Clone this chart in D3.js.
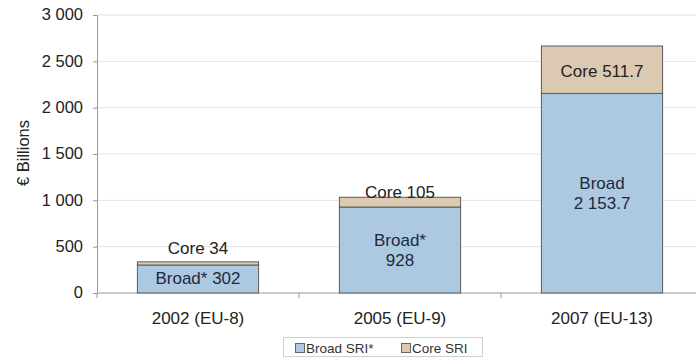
<!doctype html>
<html>
<head>
  <meta charset="utf-8">
  <script src="https://d3js.org/d3.v7.min.js"></script>
  <style>
    body { margin:0; background:#fff; font-family:"Liberation Sans", Arial, sans-serif; }
    svg { display:block; }
    .tick text { font-size:16.5px; fill:#222; }
  </style>
</head>
<body>
  <svg id="chart" width="696" height="360"></svg>
  <script>
    const categories = ["2002 (EU-8)", "2005 (EU-9)", "2007 (EU-13)"];
    const broadVals  = [302, 928, 2153.7];
    const coreVals   = [34, 105, 511.7];
    const broadLabels = [["Broad* 302"], ["Broad*", "928"], ["Broad", "2 153.7"]];
    const coreLabels  = ["Core 34", "Core 105", "Core 511.7"];
    const yTicks = [0, 500, 1000, 1500, 2000, 2500, 3000];

    const svg = d3.select("#chart");
    const x0 = 97, x1 = 703, yTop = 15, yBot = 293;

    const x = d3.scaleBand().domain(categories).range([x0, x1]).paddingInner(0.4).paddingOuter(0.2);
    const y = d3.scaleLinear().domain([0, 3000]).range([yBot, yTop]);
    const fmt = v => d3.format(",")(v).replace(/,/g, " ");

    // gridlines
    svg.append("g")
      .selectAll("line").data(yTicks.slice(1)).join("line")
      .attr("x1", x0).attr("x2", 696)
      .attr("y1", d => y(d)).attr("y2", d => y(d))
      .attr("stroke", "#e4e4e4");

    // y axis
    const ya = svg.append("g").attr("transform", `translate(${x0},0)`)
      .call(d3.axisLeft(y).tickValues(yTicks).tickFormat(fmt).tickSize(4).tickPadding(10));
    ya.select(".domain").attr("stroke", "#999");
    ya.selectAll(".tick line").attr("stroke", "#999");
    ya.selectAll(".tick text").attr("dy", "0.3em");

    // x axis
    const xa = svg.append("g").attr("transform", `translate(0,${yBot})`);
    xa.append("line").attr("x1", x0).attr("x2", 696).attr("stroke", "#999");
    const bounds = categories.map((c, i) => x0 + i * (x1 - x0) / categories.length);
    xa.selectAll("line.t").data(bounds.concat([x1])).join("line").attr("class", "t")
      .attr("x1", d => d).attr("x2", d => d).attr("y1", 0).attr("y2", 5).attr("stroke", "#999");
    xa.selectAll("text").data(categories).join("text")
      .attr("x", d => x(d) + x.bandwidth() / 2).attr("y", 31)
      .attr("text-anchor", "middle").attr("font-size", 17).attr("fill", "#222")
      .text(d => d);

    // y title
    svg.append("text")
      .attr("transform", "translate(29,153) rotate(-90)")
      .attr("text-anchor", "middle").attr("font-size", 16.5).attr("fill", "#222")
      .text("€ Billions");

    const blue = "#adc9e1", tan = "#dcc9b2";

    categories.forEach((c, i) => {
      const bx = x(c), bw = x.bandwidth();
      const b = broadVals[i], k = coreVals[i];
      svg.append("rect").attr("x", bx).attr("y", y(b)).attr("width", bw).attr("height", y(0) - y(b))
        .attr("fill", blue).attr("stroke", "#5a5a5a").attr("stroke-width", 1);
      svg.append("rect").attr("x", bx).attr("y", y(b + k)).attr("width", bw).attr("height", y(b) - y(b + k))
        .attr("fill", tan).attr("stroke", "#5a5a5a").attr("stroke-width", 1);
    });

    // labels
    const cx = i => x(categories[i]) + x.bandwidth() / 2;
    const coreY = [254, 198, 77];
    const broadY = [[284], [246, 266], [189, 209]];
    coreLabels.forEach((t, i) => {
      svg.append("text").attr("x", cx(i)).attr("y", coreY[i])
        .attr("text-anchor", "middle").attr("font-size", 17).attr("fill", "#222").text(t);
    });
    broadLabels.forEach((lines, i) => {
      lines.forEach((t, j) => {
        svg.append("text").attr("x", cx(i)).attr("y", broadY[i][j])
          .attr("text-anchor", "middle").attr("font-size", 17).attr("fill", "#1d2a3a").text(t);
      });
    });

    // legend
    const lg = svg.append("g");
    lg.append("rect").attr("x", 283.5).attr("y", 337.5).attr("width", 199).attr("height", 19)
      .attr("fill", "#fff").attr("stroke", "#d0d0d0");
    const items = [["Broad SRI*", blue, 295], ["Core SRI", tan, 401]];
    items.forEach(([t, col, lx]) => {
      lg.append("rect").attr("x", lx + 0.5).attr("y", 343.5).attr("width", 9).attr("height", 9)
        .attr("fill", col).attr("stroke", "#666");
      lg.append("text").attr("x", lx + 11).attr("y", 353)
        .attr("font-size", 13.5).attr("fill", "#333").text(t);
    });
  </script>
</body>
</html>
